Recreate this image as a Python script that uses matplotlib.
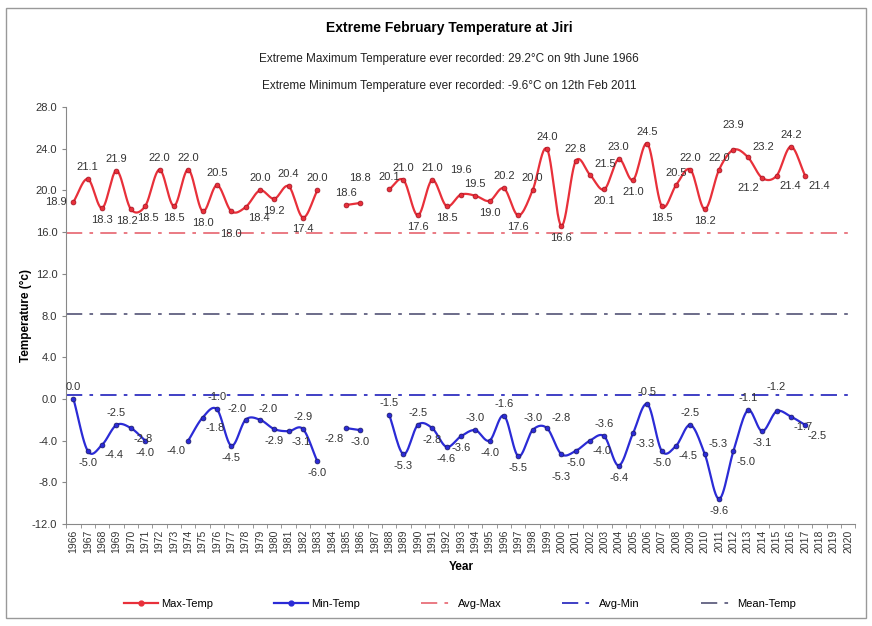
import numpy as np
import matplotlib
matplotlib.use("Agg")
import matplotlib.pyplot as plt
from matplotlib.patches import Rectangle
from matplotlib.lines import Line2D

plt.rcParams['font.family'] = ['Liberation Sans', 'DejaVu Sans']

# data
years = list(range(1966, 2021))
max_temp = [18.9, 21.1, 18.3, 21.9, 18.2, 18.5, 22.0, 18.5, 22.0, 18.0,
            20.5, 18.0, 18.4, 20.0, 19.2, 20.4, 17.4, 20.0, None, 18.6,
            18.8, None, 20.1, 21.0, 17.6, 21.0, 18.5, 19.6, 19.5, 19.0,
            20.2, 17.6, 20.0, 24.0, 16.6, 22.8, 21.5, 20.1, 23.0, 21.0,
            24.5, 18.5, 20.5, 22.0, 18.2, 22.0, 23.9, 23.2, 21.2, 21.4,
            24.2, 21.4]
min_temp = [0.0, -5.0, -4.4, -2.5, -2.8, -4.0, None, None, -4.0, -1.8,
            -1.0, -4.5, -2.0, -2.0, -2.9, -3.1, -2.9, -6.0, None, -2.8,
            -3.0, None, -1.5, -5.3, -2.5, -2.8, -4.6, -3.6, -3.0, -4.0,
            -1.6, -5.5, -3.0, -2.8, -5.3, -5.0, -4.0, -3.6, -6.4, -3.3,
            -0.5, -5.0, -4.5, -2.5, -5.3, -9.6, -5.0, -1.1, -3.1, -1.2,
            -1.7, -2.5]
avg_max = 15.9
avg_min = 0.4
mean_temp = 8.1

title = "Extreme February Temperature at Jiri"
sub1 = "Extreme Maximum Temperature ever recorded: 29.2\u00b0C on 9th June 1966"
sub2 = "Extreme Minimum Temperature ever recorded: -9.6\u00b0C on 12th Feb 2011"

# where each data label sits, one char per year, 10 years per chunk
# (a above, A higher above, b below, B lower below, l left,
#  x above-right, y below-right, z below-left, c/d below nudged left/right,
#  w/v above nudged left/right)
max_lbl = "labacdabab" + "aByababa.a" + "A.aababAab" + "abaabaxbab" + "abaabaAxzy" + "ay"
min_lbl = "abyayb..zy" + "abwvbyab.z" + "b.ababbbab" + "abaxBbyaby" + "abyaxbyabA" + "yy"

OFFS = {
    'a': (0, 5, 'center', 'bottom'), 'A': (0, 14, 'center', 'bottom'),
    'b': (0, -5, 'center', 'top'), 'B': (0, -13, 'center', 'top'),
    'c': (-3, -5, 'center', 'top'), 'd': (2, -5, 'center', 'top'),
    'l': (-5, 0, 'right', 'center'), 'r': (5, 0, 'left', 'center'),
    'x': (3, 4, 'left', 'bottom'), 'y': (2, -4, 'left', 'top'),
    'z': (-2, -4, 'right', 'top'),
    'w': (1, 4, 'right', 'bottom'), 'v': (-1, 4, 'left', 'bottom'),
}


def catmull(xs, ys, n=12):
    # smooth curve through the points, like the spreadsheet "smoothed line"
    xs = np.asarray(xs, float)
    ys = np.asarray(ys, float)
    if len(xs) < 3:
        return xs, ys
    px = np.concatenate([[2 * xs[0] - xs[1]], xs, [2 * xs[-1] - xs[-2]]])
    py = np.concatenate([[2 * ys[0] - ys[1]], ys, [2 * ys[-1] - ys[-2]]])
    ox, oy = [], []
    t = np.linspace(0, 1, n, endpoint=False)
    for i in range(1, len(px) - 2):
        for arr, out in ((px, ox), (py, oy)):
            p0, p1, p2, p3 = arr[i - 1], arr[i], arr[i + 1], arr[i + 2]
            out.extend(0.5 * (2 * p1 + (-p0 + p2) * t
                              + (2 * p0 - 5 * p1 + 4 * p2 - p3) * t ** 2
                              + (-p0 + 3 * p1 - 3 * p2 + p3) * t ** 3))
    ox.append(xs[-1])
    oy.append(ys[-1])
    return np.array(ox), np.array(oy)


def segments(vals):
    seg = []
    for y, v in zip(years, vals):
        if v is None:
            if seg:
                yield seg
            seg = []
        else:
            seg.append((y, v))
    if seg:
        yield seg


fig = plt.figure(figsize=(8.72, 6.26), dpi=100)
ax = fig.add_axes([0.076, 0.163, 0.905, 0.666])

for vals, col, mec, lbl in ((max_temp, '#e8303a', '#a01020', max_lbl),
                            (min_temp, '#2b2bd6', '#1a1a60', min_lbl)):
    for seg in segments(vals):
        sx = [s[0] for s in seg]
        sy = [s[1] for s in seg]
        cx, cy = catmull(sx, sy)
        ax.plot(cx, cy, color=col, lw=1.6, zorder=3)
        ax.plot(sx, sy, 'o', color=col, ms=3.5, mec=mec, mew=0.5, zorder=4)
    for i, v in enumerate(vals):
        if v is None:
            continue
        dx, dy, ha, va = OFFS[lbl[i]]
        ax.annotate(f"{v:.1f}", (years[i], v), xytext=(dx, dy),
                    textcoords='offset points', ha=ha, va=va,
                    fontsize=8, color='#333333', zorder=5)

ax.axhline(avg_max, color='#e8707a', lw=1.3, ls=(0, (9, 4, 2, 4)), zorder=2)
ax.axhline(avg_min, color='#3030c0', lw=1.3, ls=(0, (9, 4, 2, 4)), zorder=2)
ax.axhline(mean_temp, color='#606080', lw=1.3, ls=(0, (9, 4, 2, 4)), zorder=2)

ax.set_xlim(years[0] - 0.5, years[-1] + 0.5)
ax.set_ylim(-12, 28)
ax.set_yticks(np.arange(-12, 29, 4))
ax.set_yticklabels([f"{v:.1f}" for v in np.arange(-12, 29, 4)], fontsize=8, color='#333333')
ax.set_xticks(years)
ax.set_xticklabels([str(y) for y in years], rotation=90, fontsize=7.5, color='#333333')
ax.set_xticks(np.arange(years[0] - 0.5, years[-1] + 1, 1), minor=True)
ax.tick_params(axis='x', which='major', length=0, pad=4)
ax.tick_params(axis='x', which='minor', length=3, color='#888888')
ax.tick_params(axis='y', length=3, color='#888888')
for s in ('top', 'right'):
    ax.spines[s].set_visible(False)
for s in ('left', 'bottom'):
    ax.spines[s].set_color('#888888')

ax.set_xlabel("Year", fontsize=8.5, fontweight='bold', labelpad=6)
ax.set_ylabel("Temperature (\u00b0c)", fontsize=8.5, fontweight='bold', labelpad=0)

fig.text(0.515, 0.955, title, ha='center', va='center', fontsize=10, fontweight='bold')
fig.text(0.515, 0.905, sub1, ha='center', va='center', fontsize=8.5, color='#222222')
fig.text(0.515, 0.862, sub2, ha='center', va='center', fontsize=8.5, color='#222222')

handles = [
    Line2D([], [], color='#e8303a', lw=1.6, marker='o', ms=3.5),
    Line2D([], [], color='#2b2bd6', lw=1.6, marker='o', ms=3.5),
    Line2D([], [], color='#e8707a', lw=1.3, ls=(0, (9, 4, 2, 4))),
    Line2D([], [], color='#3030c0', lw=1.3, ls=(0, (9, 4, 2, 4))),
    Line2D([], [], color='#606080', lw=1.3, ls=(0, (9, 4, 2, 4))),
]
fig.legend(handles, ["Max-Temp", "Min-Temp", "Avg-Max", "Avg-Min", "Mean-Temp"],
           loc='center', bbox_to_anchor=(0.528, 0.035), ncol=5, frameon=False,
           fontsize=8, handlelength=3, columnspacing=5.5, handletextpad=0.3)

fig.patches.append(Rectangle((0.007, 0.012), 0.986, 0.976, transform=fig.transFigure,
                             fill=False, ec='#999999', lw=1))

fig.savefig("out.png", dpi=100)
